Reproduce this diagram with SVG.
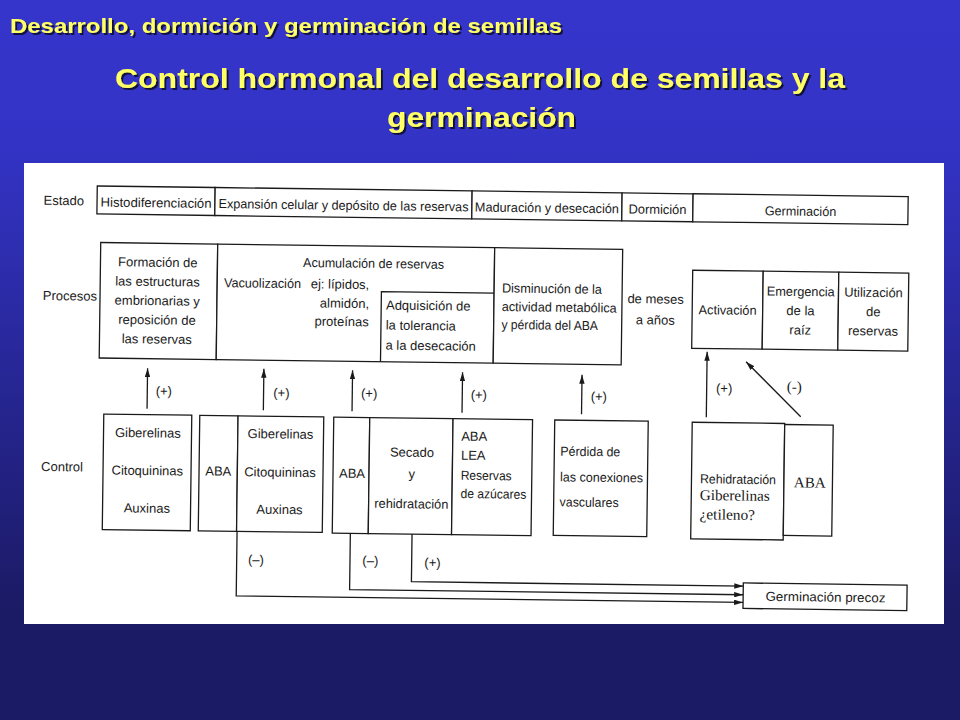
<svg xmlns="http://www.w3.org/2000/svg" width="960" height="720" viewBox="0 0 960 720">
<defs>
<linearGradient id="bg" x1="0" y1="0" x2="0" y2="1">
<stop offset="0" stop-color="#3535cc"/>
<stop offset="0.2" stop-color="#3333c6"/>
<stop offset="0.85" stop-color="#1b1a64"/>
<stop offset="1" stop-color="#1b1a64"/>
</linearGradient>
<filter id="sh" x="-5%" y="-20%" width="110%" height="150%"><feDropShadow dx="2" dy="2" stdDeviation="0.5" flood-color="#0a0a30" flood-opacity="0.9"/></filter>
<marker id="ah" viewBox="0 0 10 6" refX="10" refY="3" markerWidth="9" markerHeight="5.5" markerUnits="userSpaceOnUse" orient="auto"><path d="M0,0 L10,3 L0,6 z" fill="#1a1a1a"/></marker>
</defs>
<style>
.t{font-family:"Liberation Sans",Arial,sans-serif;font-size:13px;fill:#1a1a1a}
.c{text-anchor:middle}
.e{text-anchor:end}
.s{font-family:"Liberation Serif","Times New Roman",serif;font-size:15px;fill:#1a1a1a}
.b{fill:#fff;stroke:#1a1a1a;stroke-width:1.3}
.l{fill:none;stroke:#1a1a1a;stroke-width:1.3}
.a{fill:none;stroke:#1a1a1a;stroke-width:1.3;marker-end:url(#ah)}
.h{font-family:"Liberation Sans",Arial,sans-serif;font-weight:bold;fill:#ffff66;filter:url(#sh)}
</style>
<rect x="0" y="0" width="960" height="720" fill="url(#bg)"/>
<g id="titulos">
<text class="h" x="10" y="32.5" font-size="21" textLength="552" lengthAdjust="spacingAndGlyphs">Desarrollo, dormición y germinación de semillas</text>
<text class="h" x="115" y="88" font-size="27.5" textLength="730" lengthAdjust="spacingAndGlyphs">Control hormonal del desarrollo de semillas y la</text>
<text class="h" x="387" y="127" font-size="27.5" textLength="189" lengthAdjust="spacingAndGlyphs">germinación</text>
</g>
<rect x="24" y="163" width="920" height="461" fill="#fff"/>
<g transform="rotate(0.75 480 400)">
<g id="etiquetas">
<text class="t" x="41" y="210.5">Estado</text>
<text class="t" x="41.5" y="305.7">Procesos</text>
<text class="t" x="42" y="476.7">Control</text>
</g>
<g id="estado-histodiferenciacion"><rect class="b" x="94.5" y="191" width="117.9" height="28"/><text class="t c" x="153.5" y="211.5" textLength="111" lengthAdjust="spacingAndGlyphs">Histodiferenciación</text></g>
<g id="estado-expansion"><rect class="b" x="212.4" y="191" width="257" height="28"/><text class="t c" x="341" y="211.5" textLength="250" lengthAdjust="spacingAndGlyphs">Expansión celular y depósito de las reservas</text></g>
<g id="estado-maduracion"><rect class="b" x="469.4" y="191" width="150" height="28"/><text class="t c" x="544.4" y="211.5" textLength="144" lengthAdjust="spacingAndGlyphs">Maduración y desecación</text></g>
<g id="estado-dormicion"><rect class="b" x="619.4" y="191" width="71" height="28"/><text class="t c" x="655" y="211.5" textLength="58" lengthAdjust="spacingAndGlyphs">Dormición</text></g>
<g id="estado-germinacion"><rect class="b" x="690.4" y="191" width="215.1" height="28"/><text class="t c" x="798" y="211.5" textLength="71.5" lengthAdjust="spacingAndGlyphs">Germinación</text></g>

<g id="proc-formacion"><rect class="b" x="98.7" y="247.5" width="117" height="115.5"/>
<text class="t c" x="156" y="271">Formación de</text>
<text class="t c" x="156" y="290.2">las estructuras</text>
<text class="t c" x="156" y="309.4">embrionarias y</text>
<text class="t c" x="156" y="328.6">reposición de</text>
<text class="t c" x="156" y="347.8">las reservas</text></g>
<g id="proc-acumulacion"><rect class="b" x="215.7" y="247.5" width="277" height="115.5"/>
<text class="t" x="301.3" y="269.3" textLength="141" lengthAdjust="spacingAndGlyphs">Acumulación de reservas</text>
<text class="t" x="222.5" y="290.5" textLength="77" lengthAdjust="spacingAndGlyphs">Vacuolización</text>
<text class="t e" x="367.8" y="290.5">ej: lípidos,</text>
<text class="t e" x="367.8" y="309.5">almidón,</text>
<text class="t e" x="367.8" y="327.8">proteínas</text></g>
<g id="proc-adquisicion"><path class="l" d="M380,363 V293 H492.7"/>
<text class="t" x="384.8" y="310.8">Adquisición de</text>
<text class="t" x="384.8" y="330.8">la tolerancia</text>
<text class="t" x="384.8" y="350.8">a la desecación</text></g>
<g id="proc-disminucion"><rect class="b" x="492.7" y="247.5" width="128" height="115.5"/>
<text class="t" x="500.5" y="292.2" textLength="100" lengthAdjust="spacingAndGlyphs">Disminución de la</text>
<text class="t" x="500.5" y="310.7" textLength="115" lengthAdjust="spacingAndGlyphs">actividad metabólica</text>
<text class="t" x="500.5" y="328.7" textLength="96.5" lengthAdjust="spacingAndGlyphs">y pérdida del ABA</text></g>
<g id="proc-meses"><text class="t c" x="654.3" y="301.2">de meses</text><text class="t c" x="654.3" y="322.2">a años</text></g>
<g id="proc-activacion"><rect class="b" x="691" y="267.5" width="70.5" height="78"/><text class="t c" x="726.4" y="311.3" textLength="58" lengthAdjust="spacingAndGlyphs">Activación</text></g>
<g id="proc-emergencia"><rect class="b" x="761.5" y="267.5" width="75.6" height="78"/>
<text class="t c" x="799.3" y="291.8" textLength="68" lengthAdjust="spacingAndGlyphs">Emergencia</text><text class="t c" x="799.3" y="311">de la</text><text class="t c" x="799.3" y="330.3">raíz</text></g>
<g id="proc-utilizacion"><rect class="b" x="837.1" y="267.5" width="70" height="78"/>
<text class="t c" x="872.1" y="291.8" textLength="58.5" lengthAdjust="spacingAndGlyphs">Utilización</text><text class="t c" x="872.1" y="311">de</text><text class="t c" x="872.1" y="330.3">reservas</text></g>

<g id="ctrl-hormonas1"><rect class="b" x="104" y="419" width="88" height="115.5"/>
<text class="t c" x="148.3" y="441.7">Giberelinas</text><text class="t c" x="148.3" y="479.4">Citoquininas</text><text class="t c" x="148.3" y="517">Auxinas</text></g>
<g id="ctrl-aba1"><rect class="b" x="200" y="419" width="38.3" height="115.5"/><text class="t c" x="219.3" y="479">ABA</text></g>
<g id="ctrl-hormonas2"><rect class="b" x="238.3" y="419" width="85.7" height="115.5"/>
<text class="t c" x="281" y="441">Giberelinas</text><text class="t c" x="281" y="479.3">Citoquininas</text><text class="t c" x="281" y="516.6">Auxinas</text></g>
<g id="ctrl-aba2"><rect class="b" x="334" y="419" width="36" height="116"/><text class="t c" x="353" y="479.5">ABA</text></g>
<g id="ctrl-secado"><rect class="b" x="370" y="419" width="83.3" height="116"/>
<text class="t c" x="412.7" y="457.6">Secado</text><text class="t c" x="412.7" y="479.2">y</text><text class="t c" x="412.7" y="509.2" textLength="74" lengthAdjust="spacingAndGlyphs">rehidratación</text></g>
<g id="ctrl-aba-lea"><rect class="b" x="453.3" y="419" width="79.5" height="116"/>
<text class="t" x="461.7" y="440.9">ABA</text><text class="t" x="461.7" y="459.9">LEA</text><text class="t" x="461.7" y="479.9" textLength="51" lengthAdjust="spacingAndGlyphs">Reservas</text><text class="t" x="461.7" y="498.2" textLength="66" lengthAdjust="spacingAndGlyphs">de azúcares</text></g>
<g id="ctrl-perdida"><rect class="b" x="555" y="419" width="93.5" height="115.5"/>
<text class="t" x="561" y="454.6" textLength="60" lengthAdjust="spacingAndGlyphs">Pérdida de</text><text class="t" x="561" y="480.3" textLength="83" lengthAdjust="spacingAndGlyphs">las conexiones</text><text class="t" x="561" y="505.3" textLength="59" lengthAdjust="spacingAndGlyphs">vasculares</text></g>
<g id="ctrl-rehidratacion"><rect class="b" x="692.5" y="419.5" width="92.5" height="116.5"/>
<text class="t" x="701" y="480.4" font-size="12.5" textLength="76" lengthAdjust="spacingAndGlyphs">Rehidratación</text>
<text class="s" x="701" y="497.1" textLength="70" lengthAdjust="spacingAndGlyphs">Giberelinas</text>
<text class="s" x="701" y="516.4" textLength="55.5" lengthAdjust="spacingAndGlyphs">¿etileno?</text></g>
<g id="ctrl-aba3"><rect class="b" x="785" y="420.5" width="48.5" height="111"/><text class="s c" x="810.8" y="483.2" font-size="14.5">ABA</text></g>
<g id="germinacion-precoz"><rect class="b" x="745.7" y="579.5" width="163.8" height="25.5"/><text class="t c" x="828" y="597" font-size="13.4" textLength="120" lengthAdjust="spacingAndGlyphs">Germinación precoz</text></g>

<g id="conectores">
<line class="a" x1="147.2" y1="413" x2="147.2" y2="372.5"/>
<line class="a" x1="263.5" y1="413" x2="263.5" y2="371.5"/>
<line class="a" x1="352.2" y1="413" x2="352.2" y2="372"/>
<line class="a" x1="462.2" y1="413" x2="462.2" y2="372.5"/>
<line class="a" x1="581.7" y1="413" x2="581.7" y2="373.5"/>
<line class="a" x1="706.5" y1="414.3" x2="706.5" y2="348.7"/>
<line class="a" x1="800.9" y1="412.5" x2="745.5" y2="358.2"/>
<polyline class="a" points="238.8,534.5 238.8,599 745.7,599"/>
<polyline class="a" points="352.1,535 352.1,591.3 745.7,591.3"/>
<polyline class="a" points="413.8,535 413.8,582.6 745.7,582.6"/>
<text class="t" x="155.6" y="399.7">(+)</text>
<text class="t" x="273.2" y="400">(+)</text>
<text class="t" x="361" y="399.3">(+)</text>
<text class="t" x="470.7" y="399.3">(+)</text>
<text class="t" x="590.7" y="399.5">(+)</text>
<text class="t" x="715.9" y="389.6">(+)</text>
<text class="s" x="786.6" y="387.6" font-size="14">(-)</text>
<text class="t" x="250.1" y="567">(–)</text>
<text class="t" x="364.5" y="566.5">(–)</text>
<text class="t" x="426.5" y="567.7">(+)</text>
</g>
</g>
</svg>
